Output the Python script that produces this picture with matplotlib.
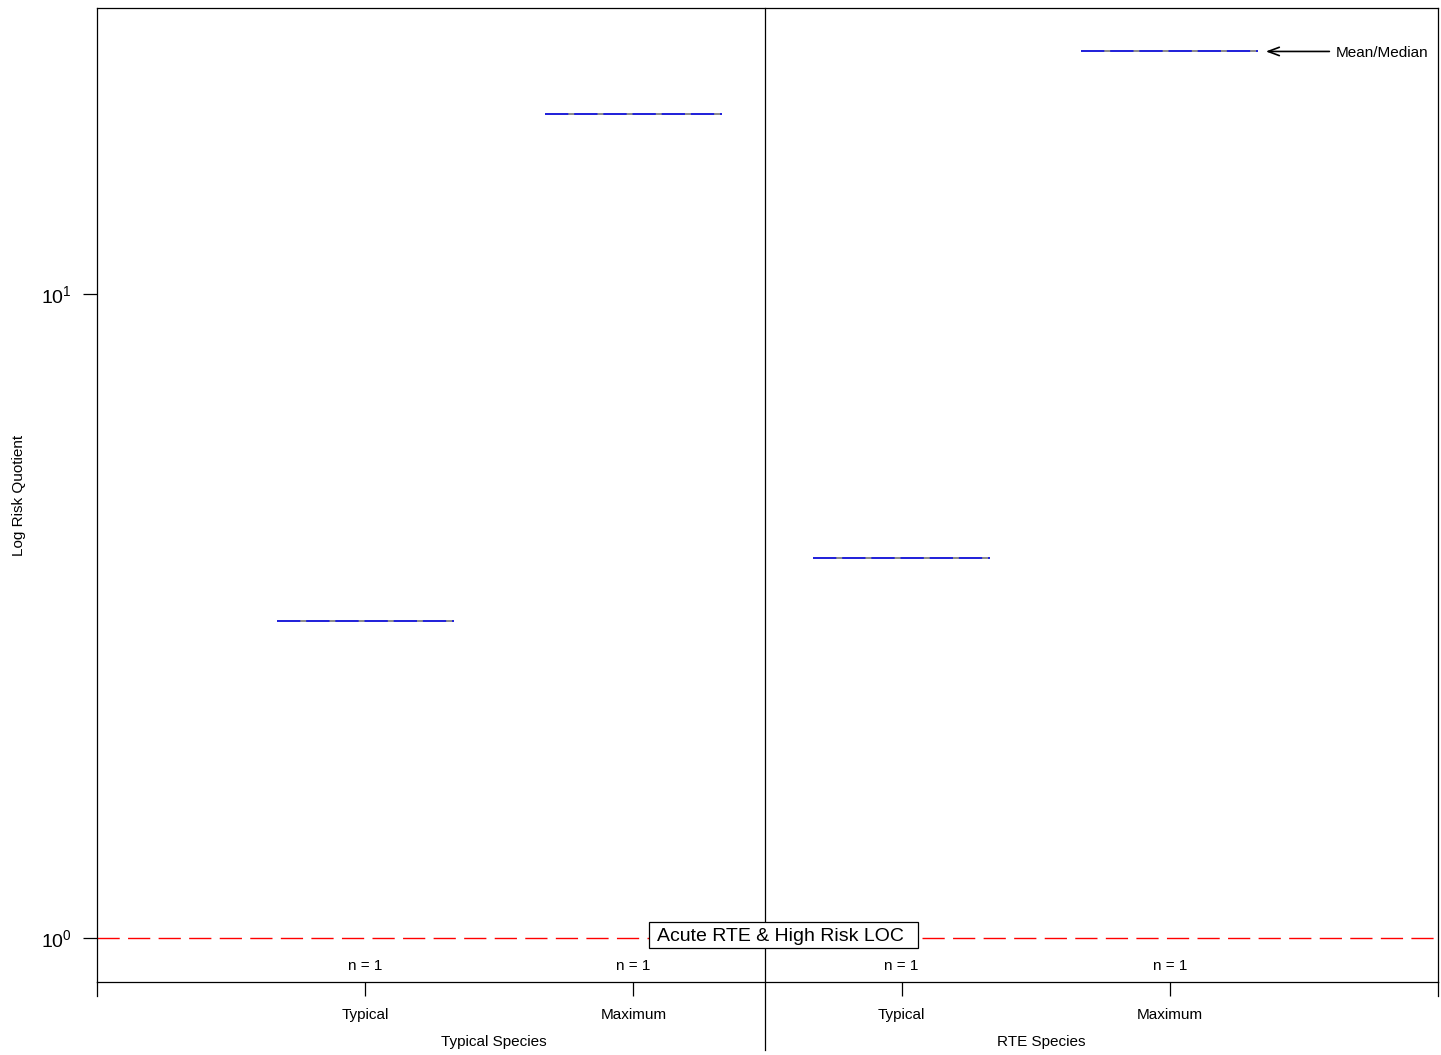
import numpy as np
import matplotlib.pyplot as plt
from matplotlib.ticker import FixedLocator, NullLocator
from matplotlib.patches import Rectangle
from matplotlib import transforms

plt.rcParams['font.family'] = ['Liberation Sans', 'DejaVu Sans']

groups = ['Typical Species', 'RTE Species']
categories = ['Typical', 'Maximum', 'Typical', 'Maximum']
means = [3.11, 19.0, 3.89, 23.8]
counts = [1, 1, 1, 1]
loc_value = 1.0
loc_label = 'Acute RTE & High Risk LOC'

W, H = 1441, 1055
fig = plt.figure(figsize=(W / 100, H / 100), dpi=100)
ax = fig.add_axes([97 / W, 1 - 982 / H, (1438 - 97) / W, (982 - 8) / H])
ax.set_yscale('log')
ax.set_xlim(0, 5)
ax.set_ylim(0.8545, 27.8)

pos = np.arange(1, len(categories) + 1)

for sp in ax.spines.values():
    sp.set_linewidth(0.9)

# mean/median lines
for p, m in zip(pos, means):
    ax.hlines(m, p - 0.33, p + 0.33, color='#777777', lw=1.2, zorder=3)
    ax.hlines(m, p - 0.33, p + 0.33, color='#2222dd', lw=1.4,
              linestyles=(0, (12, 3)), zorder=4)

# level of concern
ax.axhline(loc_value, color='red', lw=1.0, ls=(0, (16, 6)), zorder=2)
ax.add_patch(Rectangle((0.4116, 0.0349), 0.2006, 0.0267, transform=ax.transAxes,
                       fc='white', ec='black', lw=0.9, zorder=6))
ax.text(0.4176, 0.0483, loc_label, transform=ax.transAxes,
        ha='left', va='center_baseline', fontsize=14, zorder=7)

# counts
tr = transforms.blended_transform_factory(ax.transData, ax.transAxes)
for p, n in zip(pos, counts):
    ax.text(p, 0.0165, 'n = %d' % n, transform=tr, ha='center', va='center', fontsize=11)

# group divider
ax.plot([2.49, 2.49], [-0.0698, 1], transform=tr, color='black', lw=0.9, clip_on=False, zorder=5)
# spine extensions
for xa in (0, 1):
    ax.plot([xa, xa], [-0.0144, 0], transform=ax.transAxes, color='black', lw=0.9, clip_on=False)

# x ticks
ax.xaxis.set_major_locator(FixedLocator(pos))
ax.set_xticklabels(categories, fontsize=11)
ax.tick_params(axis='x', direction='out', length=10, width=0.9, pad=8.5)
group_x = [1.48, 3.52]
for gx, g in zip(group_x, groups):
    ax.text(gx, -0.0615, g, transform=tr, ha='center', va='center', fontsize=11)

# y ticks
ax.yaxis.set_major_locator(FixedLocator([1, 10]))
ax.yaxis.set_minor_locator(NullLocator())
ax.tick_params(axis='y', direction='out', length=10, width=0.9, pad=8, labelsize=14)
fig.text(19 / W, 1 - 495 / H, 'Log Risk Quotient', rotation=90, ha='center', va='center', fontsize=11)

# legend annotation
ax.annotate('', xy=(4.358, means[3]), xytext=(4.595, means[3]),
            arrowprops=dict(arrowstyle='->,head_length=0.8,head_width=0.3', lw=1.2,
                            color='black', shrinkA=0, shrinkB=0))
ax.text(4.618, means[3], 'Mean/Median', ha='left', va='center_baseline', fontsize=11)

fig.savefig('out.png', dpi=100)
